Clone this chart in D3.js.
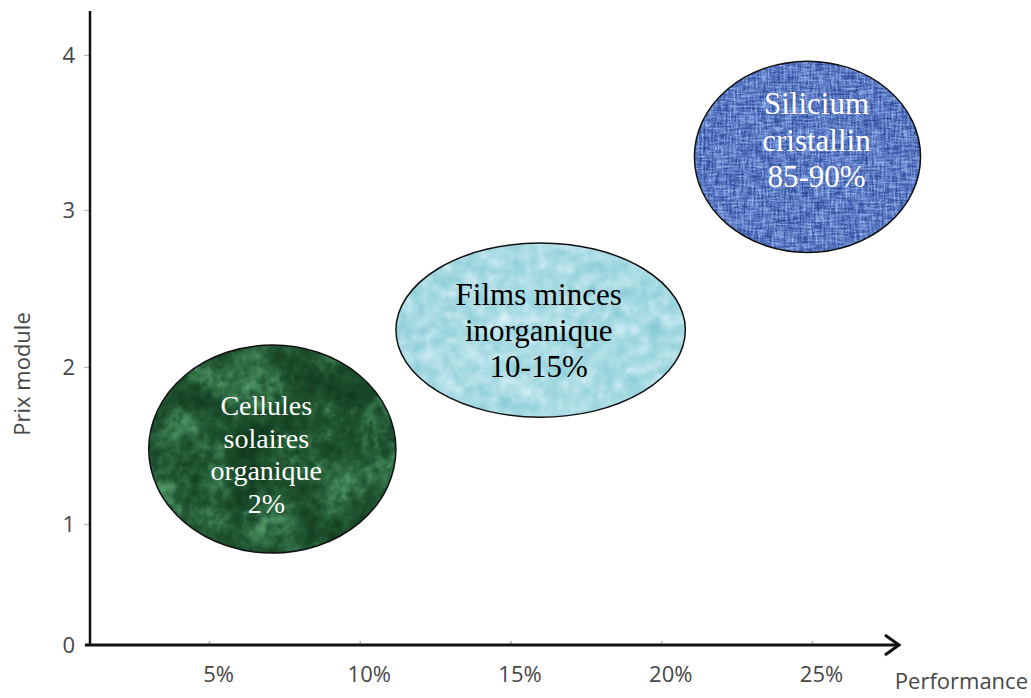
<!DOCTYPE html>
<html>
<head>
<meta charset="utf-8">
<script src="https://cdn.jsdelivr.net/npm/d3@7"></script>
<style>
  html, body { margin: 0; padding: 0; background: #fff; }
  svg { display: block; }
</style>
</head>
<body>
<svg id="chart" width="1031" height="698"></svg>
<script>
// Technology families: performance range (%) and module price range
const materials   = ["organique", "inorganique", "silicium"];
const labelLines  = [
  ["Cellules", "solaires", "organique", "2%"],
  ["Films minces", "inorganique", "10-15%"],
  ["Silicium", "cristallin", "85-90%"]
];
const perfMin  = [3.0, 11.2, 21.1];
const perfMax  = [11.2, 20.8, 28.6];
const priceMin = [0.76, 1.68, 2.73];
const priceMax = [2.14, 2.79, 3.96];

const xTicks      = [5, 10, 15, 20, 25];
const xTickLabels = ["5%", "10%", "15%", "20%", "25%"];
const yTicks      = [0, 1, 2, 3, 4];
const yTickLabels = ["0", "1", "2", "3", "4"];

const svg = d3.select("#chart");

// Scales (the price axis of the diagram is hand-spaced, so a piecewise scale)
const x = d3.scaleLinear().domain([5, 25]).range([209, 812]);
const y = d3.scaleLinear().domain([0, 1, 2, 3, 4]).range([645, 524, 367, 210, 55]);

// ---------- textures ----------
const defs = svg.append("defs");

function texture(id, layers, tables) {
  const f = defs.append("filter").attr("id", id)
    .attr("x", "0").attr("y", "0").attr("width", "1").attr("height", "1")
    .attr("color-interpolation-filters", "sRGB");
  layers.forEach((l, i) => {
    f.append("feTurbulence")
      .attr("type", l.type).attr("baseFrequency", l.freq)
      .attr("numOctaves", l.oct).attr("seed", l.seed).attr("result", "t" + i);
  });
  let prev = "t0";
  for (let i = 1; i < layers.length; i++) {
    f.append("feComposite").attr("in", prev).attr("in2", "t" + i)
      .attr("operator", "arithmetic")
      .attr("k1", 0).attr("k2", 1 - layers[i].w).attr("k3", layers[i].w).attr("k4", 0)
      .attr("result", "m" + i);
    prev = "m" + i;
  }
  f.append("feColorMatrix").attr("in", prev).attr("type", "matrix")
    .attr("values", "1 0 0 0 0  1 0 0 0 0  1 0 0 0 0  0 0 0 0 1").attr("result", "g");
  const ct = f.append("feComponentTransfer").attr("in", "g").attr("result", "c");
  ct.append("feFuncR").attr("type", "table").attr("tableValues", tables[0].join(" "));
  ct.append("feFuncG").attr("type", "table").attr("tableValues", tables[1].join(" "));
  ct.append("feFuncB").attr("type", "table").attr("tableValues", tables[2].join(" "));
  ct.append("feFuncA").attr("type", "linear").attr("slope", 0).attr("intercept", 1);
  f.append("feComposite").attr("in", "c").attr("in2", "SourceGraphic").attr("operator", "in");
}

// green marble
texture("tex-organique", [
  { type: "fractalNoise", freq: "0.022", oct: 5, seed: 4 },
  { type: "fractalNoise", freq: "0.12", oct: 2, seed: 9, w: 0.3 }
], [
  [0.04, 0.05, 0.06, 0.08, 0.10, 0.13, 0.19, 0.27, 0.34, 0.40, 0.45],
  [0.16, 0.18, 0.21, 0.25, 0.29, 0.34, 0.43, 0.53, 0.61, 0.66, 0.70],
  [0.08, 0.09, 0.11, 0.13, 0.16, 0.20, 0.27, 0.35, 0.42, 0.47, 0.50]
]);
// pale blue water drops
texture("tex-inorganique", [
  { type: "turbulence", freq: "0.035", oct: 3, seed: 2 },
  { type: "fractalNoise", freq: "0.08", oct: 2, seed: 5, w: 0.4 }
], [
  [0.48, 0.58, 0.66, 0.75, 0.86, 0.93],
  [0.76, 0.82, 0.86, 0.90, 0.95, 0.98],
  [0.82, 0.86, 0.89, 0.93, 0.96, 0.99]
]);
// blue woven cloth
texture("tex-silicium", [
  { type: "fractalNoise", freq: "0.5 0.07", oct: 2, seed: 3 },
  { type: "fractalNoise", freq: "0.07 0.5", oct: 2, seed: 8, w: 0.5 },
  { type: "fractalNoise", freq: "0.7", oct: 1, seed: 11, w: 0.25 }
], [
  [0.10, 0.10, 0.12, 0.16, 0.24, 0.36, 0.50, 0.62, 0.72, 0.78, 0.80],
  [0.16, 0.17, 0.20, 0.26, 0.35, 0.48, 0.62, 0.73, 0.82, 0.86, 0.88],
  [0.38, 0.40, 0.45, 0.55, 0.66, 0.77, 0.87, 0.93, 0.96, 0.97, 0.98]
]);

// ---------- ellipses ----------
const textFill = ["#ffffff", "#000000", "#ffffff"];
const fontSize = [28, 31, 31];
const textDx   = [-6, -2, 9];
const firstDy  = [-34, -25, -42.5];
const lineStep = [32.5, 36, 36.5];

const bubbles = materials.map((m, i) => {
  const x0 = x(perfMin[i]), x1 = x(perfMax[i]);
  const y0 = y(priceMax[i]), y1 = y(priceMin[i]);
  return { m, i, cx: (x0 + x1) / 2, cy: (y0 + y1) / 2, rx: (x1 - x0) / 2, ry: (y1 - y0) / 2 };
});

const g = svg.append("g").selectAll("g").data(bubbles).join("g");

g.append("ellipse")
  .attr("cx", d => d.cx).attr("cy", d => d.cy)
  .attr("rx", d => d.rx).attr("ry", d => d.ry)
  .attr("fill", "#000")
  .attr("filter", d => `url(#tex-${d.m})`);

g.append("ellipse")
  .attr("cx", d => d.cx).attr("cy", d => d.cy)
  .attr("rx", d => d.rx).attr("ry", d => d.ry)
  .attr("fill", "none").attr("stroke", "#111").attr("stroke-width", 1.5);

g.each(function (d) {
  const t = d3.select(this).append("text")
    .attr("text-anchor", "middle")
    .attr("font-family", "'Liberation Serif', 'Times New Roman', serif")
    .attr("font-size", fontSize[d.i])
    .attr("fill", textFill[d.i]);
  labelLines[d.i].forEach((line, k) => {
    t.append("tspan")
      .attr("x", d.cx + textDx[d.i])
      .attr("y", d.cy + firstDy[d.i] + k * lineStep[d.i])
      .text(line);
  });
});

// ---------- axes ----------
const labelFont = "'Open Sans', 'Noto Sans', sans-serif";
const labelColor = "#474747";

const yAxis = svg.append("g").attr("transform", "translate(90,0)")
  .call(d3.axisLeft(y).tickValues(yTicks).tickFormat((d, i) => yTickLabels[i])
    .tickSize(6).tickPadding(9));
yAxis.select(".domain").remove();
yAxis.selectAll(".tick line").attr("stroke", "#b5b5b5").attr("stroke-width", 1.2);
yAxis.selectAll(".tick text")
  .attr("font-family", labelFont).attr("font-size", 22).attr("fill", labelColor);

const xAxis = svg.append("g").attr("transform", `translate(0,${y(0)})`)
  .call(d3.axisBottom(x).tickValues(xTicks).tickFormat((d, i) => xTickLabels[i])
    .tickSize(-4).tickPadding(21));
xAxis.select(".domain").remove();
xAxis.selectAll(".tick line").attr("stroke", "#b5b5b5").attr("stroke-width", 1.5);
xAxis.selectAll(".tick text")
  .attr("dx", 9)
  .attr("font-family", labelFont).attr("font-size", 22).attr("fill", labelColor);

// axis lines
svg.append("line")
  .attr("x1", 90).attr("x2", 90).attr("y1", 11).attr("y2", y(0))
  .attr("stroke", "#111").attr("stroke-width", 2.5);
svg.append("line")
  .attr("x1", 85).attr("x2", 898).attr("y1", y(0)).attr("y2", y(0))
  .attr("stroke", "#111").attr("stroke-width", 3);
svg.append("path")
  .attr("d", `M885,${y(0) - 10} L899,${y(0)} L885,${y(0) + 10}`)
  .attr("fill", "none").attr("stroke", "#111").attr("stroke-width", 3)
  .attr("stroke-linejoin", "miter");

// axis titles
svg.append("text")
  .attr("x", 1028).attr("y", 689)
  .attr("text-anchor", "end")
  .attr("font-family", labelFont).attr("font-size", 22).attr("fill", labelColor)
  .text("Performance");

svg.append("text")
  .attr("transform", "translate(30,374) rotate(-90)")
  .attr("text-anchor", "middle")
  .attr("font-family", labelFont).attr("font-size", 22).attr("fill", labelColor)
  .text("Prix module");
</script>
</body>
</html>
